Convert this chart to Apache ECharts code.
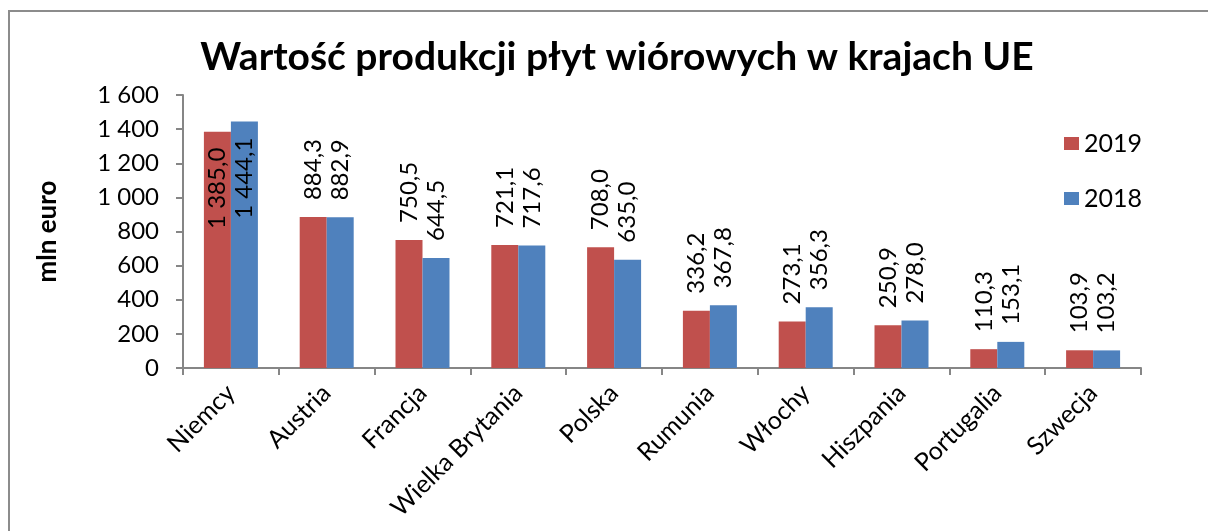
<!DOCTYPE html>
<html>
<head>
<meta charset="utf-8">
<script src="https://cdn.jsdelivr.net/npm/echarts@6/dist/echarts.min.js"></script>
<style>
html,body{margin:0;padding:0;background:#fff;}
#chart{width:1208px;height:531px;}
</style>
</head>
<body>
<div id="chart"></div>
<script>
const categories = ['Niemcy','Austria','Francja','Wielka Brytania','Polska','Rumunia','Włochy','Hiszpania','Portugalia','Szwecja'];
const values2019 = [1385.0, 884.3, 750.5, 721.1, 708.0, 336.2, 273.1, 250.9, 110.3, 103.9];
const values2018 = [1444.1, 882.9, 644.5, 717.6, 635.0, 367.8, 356.3, 278.0, 153.1, 103.2];
const seriesNames = ['2019', '2018'];
const titleText = 'Wartość produkcji płyt wiórowych w krajach UE';
const yAxisName = 'mln euro';

const FONT = 'Lato';
function fmtNum(v, dec) {
  const s = v.toFixed(dec);
  const parts = s.split('.');
  const intPart = parts[0].replace(/\B(?=(\d{3})+(?!\d))/g, ' ');
  return parts.length > 1 ? intPart + ',' + parts[1] : intPart;
}
function buildData(vals) {
  return vals.map(function (v) {
    const item = { value: v };
    if (v > 1200) {
      item.label = { position: 'insideTop', align: 'right', distance: 16 };
    }
    return item;
  });
}
const labelBase = {
  show: true,
  position: 'top',
  rotate: 90,
  align: 'left',
  verticalAlign: 'middle',
  distance: 17,
  fontFamily: FONT,
  fontSize: 24,
  color: '#000',
  formatter: function (p) { return fmtNum(p.value, 1); }
};

const chart = echarts.init(document.getElementById('chart'));
chart.setOption({
  animation: false,
  backgroundColor: '#fff',
  title: {
    text: titleText,
    left: 612,
    textAlign: 'center',
    top: 33,
    textStyle: { fontFamily: FONT, fontWeight: 'bold', fontSize: 39, color: '#000' }
  },
  legend: {
    orient: 'vertical',
    left: 1059,
    top: 126,
    itemWidth: 15,
    itemHeight: 13,
    itemGap: 30,
    icon: 'rect',
    textStyle: { fontFamily: FONT, fontSize: 25, color: '#000', lineHeight: 22 },
    data: seriesNames
  },
  grid: { left: 183, right: 67, top: 95, bottom: 163, containLabel: false },
  xAxis: {
    type: 'category',
    data: categories,
    axisLine: { lineStyle: { color: '#868686', width: 2 } },
    axisTick: { show: true, length: 7, lineStyle: { color: '#868686', width: 2 } },
    axisLabel: { rotate: 45, interval: 0, margin: 21, fontFamily: FONT, fontSize: 25, color: '#000' }
  },
  yAxis: {
    type: 'value',
    min: 0,
    max: 1600,
    interval: 200,
    name: yAxisName,
    nameLocation: 'middle',
    nameGap: 122,
    nameTextStyle: { fontFamily: FONT, fontWeight: 'bold', fontSize: 26, color: '#000' },
    axisLine: { show: true, lineStyle: { color: '#868686', width: 2 } },
    axisTick: { show: true, length: 7, lineStyle: { color: '#868686', width: 2 } },
    splitLine: { show: false },
    axisLabel: { margin: 24, fontFamily: FONT, fontSize: 24, color: '#000', formatter: function (v) { return fmtNum(v, 0); } }
  },
  series: [
    {
      name: seriesNames[0], type: 'bar', data: buildData(values2019),
      itemStyle: { color: '#C0504D' }, barWidth: 27, barGap: '0%',
      label: labelBase
    },
    {
      name: seriesNames[1], type: 'bar', data: buildData(values2018),
      itemStyle: { color: '#4F81BD' }, barWidth: 27, barGap: '0%',
      label: labelBase
    }
  ],
  graphic: [
    {
      type: 'rect', silent: true, z: -1,
      shape: { x: 9, y: 11, width: 1400, height: 700 },
      style: { fill: null, stroke: '#8c8c8c', lineWidth: 2 }
    }
  ]
});
</script>
</body>
</html>
